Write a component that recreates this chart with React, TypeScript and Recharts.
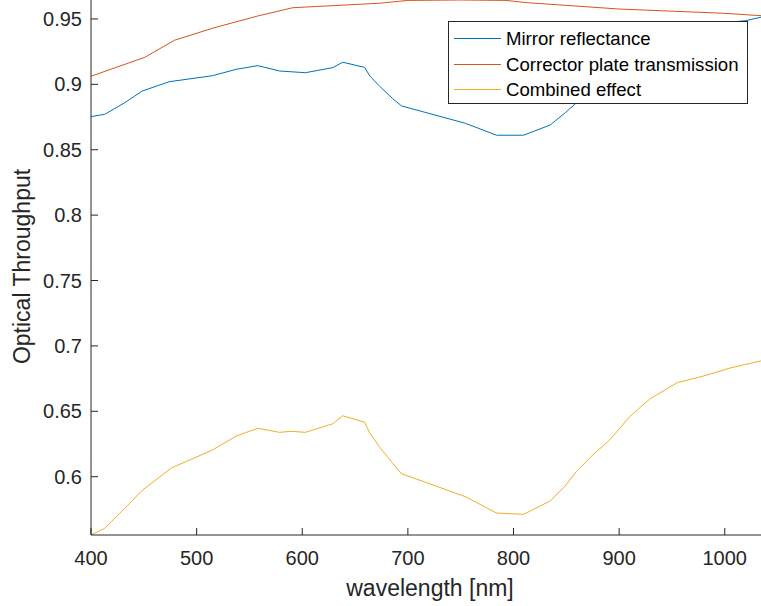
import React from "react";
import { Legend, Line, LineChart, XAxis, YAxis } from "recharts";

// wavelength [nm] / throughput
const mirrorNm = [400, 413, 432, 448.5, 474, 515, 537.5, 558, 578.5, 603, 629, 638.4, 659, 664, 673, 685.7, 694, 754.5, 784, 809.5, 834.7, 849, 859, 875, 891, 910, 929, 955, 980, 1005, 1020, 1040];
const mirrorVals = [0.8753, 0.8771, 0.886, 0.8949, 0.902, 0.9066, 0.9115, 0.9143, 0.9102, 0.9089, 0.9128, 0.9169, 0.913, 0.9064, 0.8988, 0.889, 0.8835, 0.8702, 0.8611, 0.8611, 0.8689, 0.8783, 0.8855, 0.897, 0.908, 0.924, 0.936, 0.943, 0.9455, 0.9475, 0.9487, 0.9524];

const correctorNm = [400, 451, 479, 515, 558, 591, 673, 700, 750, 793, 812, 900, 1000, 1040];
const correctorVals = [0.9062, 0.9207, 0.9337, 0.9429, 0.9523, 0.9586, 0.962, 0.9642, 0.9645, 0.9642, 0.9625, 0.9576, 0.9543, 0.9522];

const combinedNm = [400, 413, 432, 448.5, 476, 515, 537.5, 558, 578.5, 589.5, 603, 629, 638.4, 659, 664, 673, 685.7, 694, 754.5, 784, 809.5, 834.7, 849, 859.3, 875, 891, 910, 929, 955, 980, 1005, 1040];
const combinedVals = [0.5554, 0.5605, 0.5758, 0.5896, 0.6066, 0.6204, 0.6311, 0.637, 0.6339, 0.6347, 0.6339, 0.6405, 0.6466, 0.6416, 0.6332, 0.6229, 0.6102, 0.6023, 0.5847, 0.5722, 0.5712, 0.5814, 0.5929, 0.6038, 0.6166, 0.628, 0.6459, 0.6594, 0.6719, 0.677, 0.6831, 0.6896];

const seriesNames = ["Mirror reflectance", "Corrector plate transmission", "Combined effect"];

const xTicks = [400, 500, 600, 700, 800, 900, 1000];
const yTicks = [0.6, 0.65, 0.7, 0.75, 0.8, 0.85, 0.9, 0.95];

const X_DOMAIN = [400, 1040];
const Y_DOMAIN = [0.5554, 0.9645];
const INK = "#262626";
const FONT = "'Liberation Sans', Arial, sans-serif";

const toPoints = (nm: number[], vals: number[]) => nm.map((x, i) => ({ x, y: vals[i] }));

const mirrorData = toPoints(mirrorNm, mirrorVals);
const correctorData = toPoints(correctorNm, correctorVals);
const combinedData = toPoints(combinedNm, combinedVals);

const noTick = () => <g />;

const YLabel = (props: any) => {
  const { viewBox } = props;
  const cx = viewBox.x + 30;
  const cy = viewBox.y + viewBox.height / 2 - 1;
  return (
    <text
      x={cx}
      y={cy}
      transform={`rotate(-90 ${cx} ${cy})`}
      textAnchor="middle"
      fill={INK}
      fontSize={23}
      fontFamily={FONT}
    >
      Optical Throughput
    </text>
  );
};

const XLabel = (props: any) => {
  const { viewBox } = props;
  return (
    <text x={430} y={viewBox.y + viewBox.height - 10} textAnchor="middle" fill={INK} fontSize={23} fontFamily={FONT}>
      wavelength [nm]
    </text>
  );
};

const renderLegend = (props: any) => {
  // keep plotting order (recharts sorts legend items by name otherwise)
  const items = [...props.payload].sort(
    (a: any, b: any) => seriesNames.indexOf(a.value) - seriesNames.indexOf(b.value)
  );
  return (
    <div
      style={{
        boxSizing: "border-box",
        width: 300,
        height: 83,
        border: `1px solid ${INK}`,
        background: "#fff",
        paddingTop: 3.5,
        fontFamily: FONT,
        fontSize: 18.6,
        color: "#000",
      }}
    >
      {items.map((entry: any) => (
        <div key={entry.value} style={{ height: 25.7, display: "flex", alignItems: "center" }}>
          <span style={{ display: "inline-block", width: 47, marginLeft: 5, borderTop: `1px solid ${entry.color}` }} />
          <span style={{ marginLeft: 5, lineHeight: "25px", whiteSpace: "nowrap" }}>{entry.value}</span>
        </div>
      ))}
    </div>
  );
};

const App: React.FC = () => {
  return (
    <div style={{ position: "absolute", left: 0, top: 0, width: 761, height: 606, overflow: "hidden", background: "#fff" }}>
      <LineChart width={768} height={606} margin={{ top: 0, right: 1, bottom: 0, left: 0 }}>
        <XAxis
          dataKey="x"
          type="number"
          domain={X_DOMAIN}
          ticks={xTicks}
          allowDataOverflow
          height={71}
          stroke={INK}
          tickSize={-7}
          tickMargin={23}
          tick={{ fill: INK, fontSize: 20, fontFamily: FONT }}
          label={<XLabel />}
        />
        <XAxis
          xAxisId="top"
          orientation="top"
          type="number"
          domain={X_DOMAIN}
          ticks={xTicks}
          allowDataOverflow
          height={0}
          stroke={INK}
          tickSize={-7}
          tick={noTick}
        />
        <YAxis
          type="number"
          domain={Y_DOMAIN}
          ticks={yTicks}
          allowDataOverflow
          width={91}
          stroke={INK}
          tickSize={-7}
          tickMargin={16}
          tick={{ fill: INK, fontSize: 20, fontFamily: FONT }}
          label={<YLabel />}
        />
        <YAxis
          yAxisId="right"
          orientation="right"
          type="number"
          domain={Y_DOMAIN}
          ticks={yTicks}
          allowDataOverflow
          width={0}
          stroke={INK}
          tickSize={-7}
          tick={noTick}
        />
        <Line data={mirrorData} dataKey="y" name={seriesNames[0]} stroke="#0072BD" strokeWidth={1} dot={false} isAnimationActive={false} />
        <Line data={correctorData} dataKey="y" name={seriesNames[1]} stroke="#D95319" strokeWidth={1} dot={false} isAnimationActive={false} />
        <Line data={combinedData} dataKey="y" name={seriesNames[2]} stroke="#EDB120" strokeWidth={1} dot={false} isAnimationActive={false} />
        <Legend
          layout="horizontal"
          align="center"
          verticalAlign="middle"
          content={renderLegend}
          wrapperStyle={{ left: 448, top: 21, width: 300 }}
        />
      </LineChart>
    </div>
  );
};

export default App;
